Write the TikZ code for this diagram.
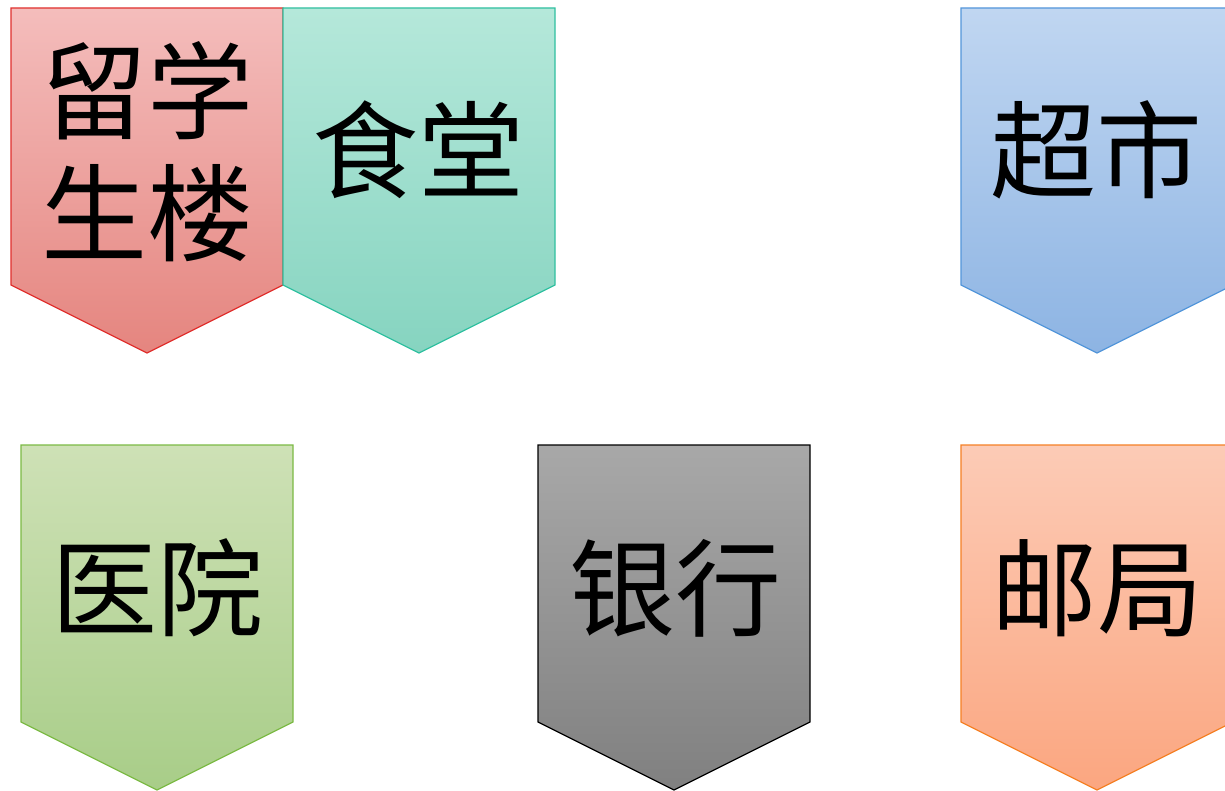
\documentclass[tikz,border=0pt]{standalone}
\usepackage{fontspec}
\newfontfamily\cjk{Noto Sans CJK SC}
\tikzset{
  banner/.style={line width=1.3pt},
  redb/.style={banner, draw={rgb,255:red,224;green,48;blue,46}, top color={rgb,255:red,244;green,189;blue,188}, bottom color={rgb,255:red,229;green,133;blue,127}},
  tealb/.style={banner, draw={rgb,255:red,48;green,192;blue,160}, top color={rgb,255:red,181;green,232;blue,218}, bottom color={rgb,255:red,134;green,212;blue,192}},
  blueb/.style={banner, draw={rgb,255:red,83;green,150;blue,218}, top color={rgb,255:red,192;green,214;blue,241}, bottom color={rgb,255:red,141;green,180;blue,227}},
  greenb/.style={banner, draw={rgb,255:red,124;green,186;blue,69}, top color={rgb,255:red,206;green,225;blue,182}, bottom color={rgb,255:red,168;green,205;blue,136}},
  grayb/.style={banner, draw=black, top color={rgb,255:red,168;green,168;blue,168}, bottom color={rgb,255:red,128;green,128;blue,128}},
  orangeb/.style={banner, draw={rgb,255:red,245;green,128;blue,37}, top color={rgb,255:red,252;green,203;blue,182}, bottom color={rgb,255:red,251;green,166;blue,128}},
  lbl/.style={font=\cjk\fontsize{106}{122}\selectfont, text=black, align=center, inner sep=0pt}
}
\newcommand{\bannershape}[3]{%
  \path[#3] (#1,#2) -- ++(272,0) -- ++(0,277) -- ++(-136,68) -- ++(-136,-68) -- cycle;}
\begin{document}
\begin{tikzpicture}[x=1pt,y=-1pt]
\clip (0,0) rectangle (1225,791);
\fill[white] (0,0) rectangle (1225,791);
\bannershape{11}{8}{redb}
\bannershape{283}{8}{tealb}
\bannershape{961}{8}{blueb}
\bannershape{21}{445}{greenb}
\bannershape{538}{445}{grayb}
\bannershape{961}{445}{orangeb}
\node[lbl] (liuxue) at (147,152) {留学\\生楼};
\node[lbl] (shitang) at (418,150) {食堂};
\node[lbl] (chaoshi) at (1096,150) {超市};
\node[lbl] (yiyuan) at (157,588) {医院};
\node[lbl] (yinhang) at (675,588) {银行};
\node[lbl] (youju) at (1097,588) {邮局};
\end{tikzpicture}
\end{document}
